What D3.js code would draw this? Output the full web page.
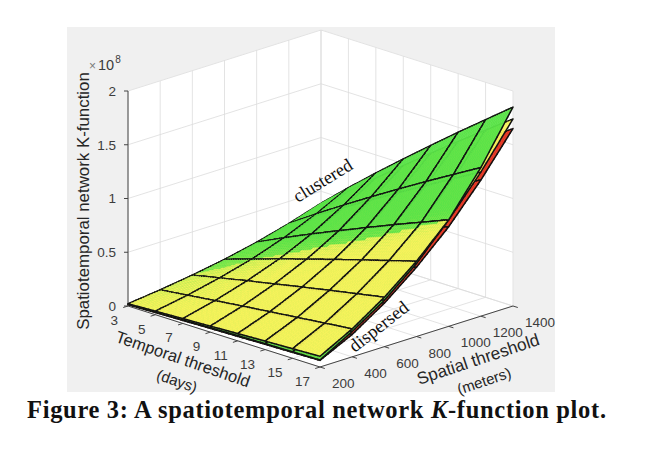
<!DOCTYPE html>
<html>
<head>
<meta charset="utf-8">
<script src="https://cdn.jsdelivr.net/npm/d3@7"></script>
<style>
  body { margin: 0; background: #fff; }
  svg { display: block; font-family: "Liberation Sans", Arial, sans-serif; }
</style>
</head>
<body>
<svg id="chart" width="651" height="450"></svg>
<script>
// grid of the surfaces
const temporal = [3, 5, 7, 9, 11, 13, 15, 17];            // days
const spatial  = [200, 400, 600, 800, 1000, 1200, 1400];  // meters
const kTicks   = [0, 0.5, 1, 1.5, 2];                     // x 10^8

// K-function values (x 10^8), one row per temporal threshold, one column per spatial threshold
const observed = [
  [0.021, 0.055, 0.097, 0.147, 0.208, 0.281, 0.365],
  [0.033, 0.086, 0.153, 0.232, 0.329, 0.445, 0.578],
  [0.045, 0.117, 0.207, 0.315, 0.446, 0.603, 0.783],
  [0.056, 0.147, 0.259, 0.395, 0.558, 0.756, 0.981],
  [0.068, 0.176, 0.311, 0.473, 0.669, 0.906, 1.176],
  [0.079, 0.204, 0.362, 0.550, 0.778, 1.053, 1.368],
  [0.089, 0.232, 0.411, 0.625, 0.884, 1.197, 1.554],
  [0.100, 0.260, 0.460, 0.700, 0.990, 1.340, 1.740],
];
const upperEnv = [
  [0.017, 0.0540, 0.0970, 0.1494, 0.2146, 0.2942, 0.388],
  [0.026, 0.0827, 0.1502, 0.2325, 0.3364, 0.4640, 0.614],
  [0.034, 0.1110, 0.2011, 0.3132, 0.4537, 0.6272, 0.832],
  [0.041, 0.1377, 0.2492, 0.3900, 0.5650, 0.7846, 1.043],
  [0.049, 0.1635, 0.2973, 0.4648, 0.6753, 0.9388, 1.250],
  [0.055, 0.1880, 0.3438, 0.5380, 0.7830, 1.0895, 1.454],
  [0.060, 0.2118, 0.3876, 0.6081, 0.8867, 1.2365, 1.652],
  [0.065, 0.2354, 0.4310, 0.6780, 0.9900, 1.3820, 1.850],
];
const lowerEnv = [
  [0.013, 0.044, 0.085, 0.135, 0.194, 0.266, 0.346],
  [0.020, 0.069, 0.135, 0.213, 0.308, 0.421, 0.548],
  [0.028, 0.094, 0.182, 0.290, 0.417, 0.570, 0.742],
  [0.035, 0.118, 0.228, 0.363, 0.522, 0.714, 0.930],
  [0.042, 0.141, 0.274, 0.435, 0.626, 0.856, 1.115],
  [0.049, 0.163, 0.319, 0.506, 0.727, 0.995, 1.297],
  [0.055, 0.186, 0.362, 0.575, 0.827, 1.131, 1.473],
  [0.062, 0.208, 0.405, 0.644, 0.926, 1.266, 1.650],
];

const surfaces = [
  { values: lowerEnv, color: '#e2331f' },
  { values: observed, color: '#f6f25c' },
  { values: upperEnv, color: '#5ae348' },
];

const svg = d3.select('#chart');

// orthographic projection of the unit box onto the page
const origin = [128, 306];
const tVec = [192, 61];
const sVec = [193, -61];
const kVec = [0, -215];

const tScale = d3.scaleLinear().domain([3, 17]).range([0, 1]);
const sScale = d3.scaleLinear().domain([200, 1400]).range([0, 1]);
const kScale = d3.scaleLinear().domain([0, 2]).range([0, 1]);

function proj(u, v, w) {
  return [
    origin[0] + u * tVec[0] + v * sVec[0] + w * kVec[0],
    origin[1] + u * tVec[1] + v * sVec[1] + w * kVec[1],
  ];
}
// larger = closer to the viewer
function nearness(u, v, w) { return 182 * (u - v) + 72 * w; }

const line = d3.line();

// figure background
svg.append('rect')
  .attr('x', 67).attr('y', 27).attr('width', 488).attr('height', 365)
  .attr('fill', '#f0f0f0');

// back walls and floor
const walls = [
  [[0, 0, 0], [0, 1, 0], [0, 1, 1], [0, 0, 1]],
  [[0, 1, 0], [1, 1, 0], [1, 1, 1], [0, 1, 1]],
  [[0, 0, 0], [1, 0, 0], [1, 1, 0], [0, 1, 0]],
];
svg.append('g').selectAll('path')
  .data(walls)
  .join('path')
  .attr('d', d => line(d.map(p => proj(...p))) + 'Z')
  .attr('fill', '#fff')
  .attr('stroke', '#fff')
  .attr('stroke-width', 0.5);

// grid lines
const grid = [];
for (const s of spatial) {
  const v = sScale(s);
  grid.push([[0, v, 0], [0, v, 1]]);      // left wall
  grid.push([[0, v, 0], [1, v, 0]]);      // floor
}
for (const t of temporal) {
  const u = tScale(t);
  grid.push([[u, 1, 0], [u, 1, 1]]);      // right wall
  grid.push([[u, 0, 0], [u, 1, 0]]);      // floor
}
for (const k of kTicks) {
  const w = kScale(k);
  grid.push([[0, 0, w], [0, 1, w]]);
  grid.push([[0, 1, w], [1, 1, w]]);
}
svg.append('g').selectAll('path')
  .data(grid)
  .join('path')
  .attr('d', d => line(d.map(p => proj(...p))))
  .attr('fill', 'none')
  .attr('stroke', '#dcdcdc')
  .attr('stroke-width', 0.8);

// axis lines + ticks
const axisColor = '#444';
const axes = svg.append('g').attr('stroke', axisColor).attr('stroke-width', 1).attr('fill', 'none');
axes.append('path').attr('d', line([proj(0, 0, 0), proj(0, 0, 1)]));
axes.append('path').attr('d', line([proj(0, 0, 0), proj(1, 0, 0)]));
axes.append('path').attr('d', line([proj(1, 0, 0), proj(1, 1, 0)]));
for (const k of kTicks) {
  const p = proj(0, 0, kScale(k));
  axes.append('path').attr('d', line([p, [p[0] - 4, p[1]]]));
}
for (const t of temporal) {
  const p = proj(tScale(t), 0, 0);
  axes.append('path').attr('d', line([p, [p[0] - 4.8, p[1] + 1.5]]));
}
for (const s of spatial) {
  const p = proj(1, sScale(s), 0);
  axes.append('path').attr('d', line([p, [p[0] + 4.8, p[1] + 1.5]]));
}

// surfaces: each cell split into small patches; patches at the same spot are
// stacked lowest first, and the spots are painted back to front
const SUB = 12;
const spots = [];
for (let i = 0; i < temporal.length - 1; i++) {
  for (let j = 0; j < spatial.length - 1; j++) {
    for (let a = 0; a < SUB; a++) {
      for (let b = 0; b < SUB; b++) {
        const layers = surfaces.map(surf => {
          const val = surf.values;
          const k00 = val[i][j], k10 = val[i + 1][j], k01 = val[i][j + 1], k11 = val[i + 1][j + 1];
          const pt = (fa, fb) => {
            const t = temporal[i] + fa * (temporal[i + 1] - temporal[i]);
            const s = spatial[j] + fb * (spatial[j + 1] - spatial[j]);
            const k = k00 * (1 - fa) * (1 - fb) + k10 * fa * (1 - fb) + k01 * (1 - fa) * fb + k11 * fa * fb;
            return [tScale(t), sScale(s), kScale(k)];
          };
          const c = [pt(a / SUB, b / SUB), pt((a + 1) / SUB, b / SUB),
                     pt((a + 1) / SUB, (b + 1) / SUB), pt(a / SUB, (b + 1) / SUB)];
          const scr = c.map(p => proj(...p));
          const edges = [];
          if (b === 0) edges.push([scr[0], scr[1]]);
          if (a === SUB - 1) edges.push([scr[1], scr[2]]);
          if (b === SUB - 1) edges.push([scr[2], scr[3]]);
          if (a === 0) edges.push([scr[3], scr[0]]);
          return {
            poly: scr,
            edges,
            color: surf.color,
            height: d3.mean(c, p => p[2]),
            depth: d3.mean(c, p => nearness(...p)),
          };
        });
        layers.sort((p, q) => p.height - q.height);
        spots.push({ layers, depth: d3.mean(layers, l => l.depth) });
      }
    }
  }
}
spots.sort((p, q) => p.depth - q.depth);

const surfG = svg.append('g');
for (const spot of spots) {
  for (const p of spot.layers) {
    surfG.append('path')
      .attr('d', line(p.poly) + 'Z')
      .attr('fill', p.color)
      .attr('stroke', p.color)
      .attr('stroke-width', 0.5)
      .attr('stroke-linejoin', 'round');
    if (p.edges.length) {
      surfG.append('path')
        .attr('d', p.edges.map(e => line(e)).join(''))
        .attr('fill', 'none')
        .attr('stroke', '#111')
        .attr('stroke-width', 1.5)
        .attr('stroke-linecap', 'round');
    }
  }
}

// tick labels
const labelColor = '#3c3c3c';
const tickG = svg.append('g').attr('fill', labelColor).attr('font-size', 13.5);
for (const k of kTicks) {
  const p = proj(0, 0, kScale(k));
  tickG.append('text').attr('x', 116).attr('y', p[1] + 4.8)
    .attr('text-anchor', 'end').text(d3.format('~g')(k));
}
for (const t of temporal) {
  const p = proj(tScale(t), 0, 0);
  tickG.append('text').attr('x', p[0] - 10).attr('y', p[1] + 19)
    .attr('text-anchor', 'end').text(t);
}
for (const s of spatial) {
  const p = proj(1, sScale(s), 0);
  tickG.append('text').attr('x', p[0] + 12).attr('y', p[1] + 21)
    .attr('text-anchor', 'start').text(s);
}

// exponent
const expo = svg.append('text').attr('x', 89).attr('y', 70).attr('fill', labelColor).style('font-size', '14px');
expo.append('tspan').style('font-size', '12px').attr('fill', '#7a7a7a').text('\u00d7');
expo.append('tspan').attr('dx', 2).style('font-size', '14.5px').text('10');
expo.append('tspan').attr('dx', 1).attr('dy', -7).style('font-size', '10px').text('8');

function fitText(sel, len) {
  const w = sel.node().getComputedTextLength();
  const fs = parseFloat(sel.attr('font-size'));
  sel.attr('font-size', fs * len / w);
  return sel;
}
function rotatedLabel(txt, cx, cy, angle, len, size) {
  const t = svg.append('text')
    .attr('transform', `translate(${cx},${cy}) rotate(${angle})`)
    .attr('text-anchor', 'middle')
    .attr('dy', '0.35em')
    .attr('fill', '#262626')
    .attr('font-size', size)
    .text(txt);
  return fitText(t, len);
}

rotatedLabel('Spatiotemporal network K-function', 83, 201, -90, 258, 14);
rotatedLabel('Temporal threshold', 183, 359, 19, 141, 14);
rotatedLabel('(days)', 177, 381, 19, 42, 14);
rotatedLabel('Spatial threshold', 478, 359, -18.5, 128, 14);
rotatedLabel('(meters)', 484, 381, -18.5, 56, 14);

// annotations on the surfaces
function serifLabel(txt, cx, cy, angle, len) {
  const t = svg.append('text')
    .attr('transform', `translate(${cx},${cy}) rotate(${angle})`)
    .attr('text-anchor', 'middle')
    .attr('dy', '0.3em')
    .attr('fill', '#111')
    .attr('font-family', '"Liberation Serif", "Times New Roman", serif')
    .attr('font-size', 15)
    .text(txt);
  return fitText(t, len);
}
serifLabel('clustered', 323, 181, -31.5, 66);
serifLabel('dispersed', 379, 327, -38, 70);

// caption
const cap = svg.append('text')
  .attr('x', 27).attr('y', 418)
  .attr('font-family', '"Liberation Serif", "Times New Roman", serif')
  .attr('font-weight', 'bold')
  .attr('font-size', 24.5)
  .attr('fill', '#111')
  .attr('textLength', 579)
  .attr('lengthAdjust', 'spacing');
cap.append('tspan').text('Figure 3: A spatiotemporal network ');
cap.append('tspan').attr('font-style', 'italic').text('K');
cap.append('tspan').text('-function plot.');
</script>
</body>
</html>
